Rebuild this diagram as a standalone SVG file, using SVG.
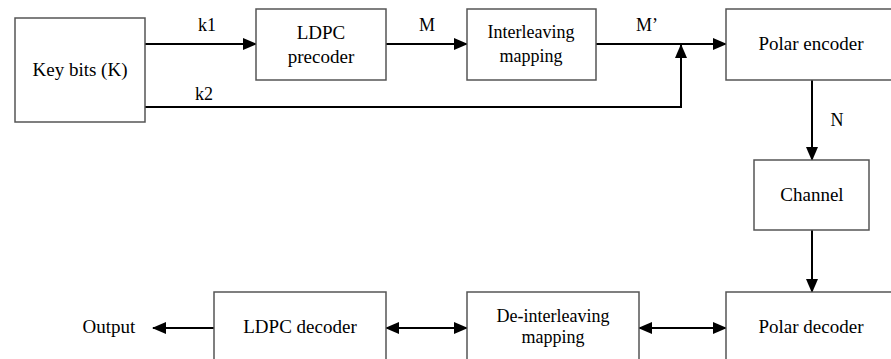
<svg xmlns="http://www.w3.org/2000/svg" width="891" height="359" viewBox="0 0 891 359">
<style>
.box{fill:#fff;stroke:#555;stroke-width:1.5}
.t{font-family:"Liberation Serif","Times New Roman",serif;font-size:19px;fill:#000;text-anchor:middle}
.s{font-size:18px}
.l{font-family:"Liberation Serif","Times New Roman",serif;font-size:18px;fill:#000;text-anchor:middle}
.c{fill:none;stroke:#000;stroke-width:2}
.a{marker-end:url(#ah)}
.d{marker-start:url(#ah);marker-end:url(#ah)}
</style>
<defs>
<marker id="ah" markerUnits="userSpaceOnUse" markerWidth="14" markerHeight="12" refX="13" refY="6" orient="auto-start-reverse" viewBox="0 0 14 12">
<path d="M0,0 L14,6 L0,12 z" fill="#000"/>
</marker>
</defs>
<rect width="891" height="359" fill="#fff"/>
<g id="connectors">
<line class="c a" x1="145" y1="44" x2="256" y2="44"/>
<line class="c a" x1="386" y1="44" x2="467" y2="44"/>
<line class="c a" x1="596" y1="44" x2="726" y2="44"/>
<polyline class="c a" points="145,107 681,107 681,45"/>
<line class="c a" x1="812" y1="80" x2="812" y2="160"/>
<line class="c a" x1="812" y1="230" x2="812" y2="292"/>
<line class="c d" x1="639" y1="328" x2="726" y2="328"/>
<line class="c d" x1="386" y1="328" x2="467" y2="328"/>
<line class="c a" x1="214" y1="328" x2="153" y2="328"/>
<text class="l" x="207" y="31">k1</text>
<text class="l" x="204" y="100">k2</text>
<text class="l" x="427" y="31">M</text>
<text class="l" x="647" y="31">M’</text>
<text class="l" x="837" y="126">N</text>
</g>
<g id="keybits">
<rect class="box" x="15" y="18" width="130" height="104"/>
<text class="t" x="80" y="76">Key bits (K)</text>
</g>
<g id="ldpc-precoder">
<rect class="box" x="256" y="9" width="130" height="71"/>
<text class="t" x="321" y="39">LDPC</text>
<text class="t" x="321" y="63">precoder</text>
</g>
<g id="interleaving">
<rect class="box" x="467" y="9" width="129" height="71"/>
<text class="t s" x="531" y="38">Interleaving</text>
<text class="t s" x="531" y="62">mapping</text>
</g>
<g id="polar-encoder">
<rect class="box" x="726" y="9" width="170" height="71"/>
<text class="t" x="811" y="50">Polar encoder</text>
</g>
<g id="channel">
<rect class="box" x="754" y="160" width="115" height="70"/>
<text class="t" x="812" y="201">Channel</text>
</g>
<g id="polar-decoder">
<rect class="box" x="726" y="292" width="170" height="75"/>
<text class="t" x="811" y="333">Polar decoder</text>
</g>
<g id="deinterleaving">
<rect class="box" x="467" y="292" width="172" height="75"/>
<text class="t s" x="553" y="322">De-interleaving</text>
<text class="t s" x="553" y="343">mapping</text>
</g>
<g id="ldpc-decoder">
<rect class="box" x="214" y="292" width="172" height="75"/>
<text class="t" x="300" y="333">LDPC decoder</text>
</g>
<g id="output">
<text class="t" x="109" y="333">Output</text>
</g>
</svg>
